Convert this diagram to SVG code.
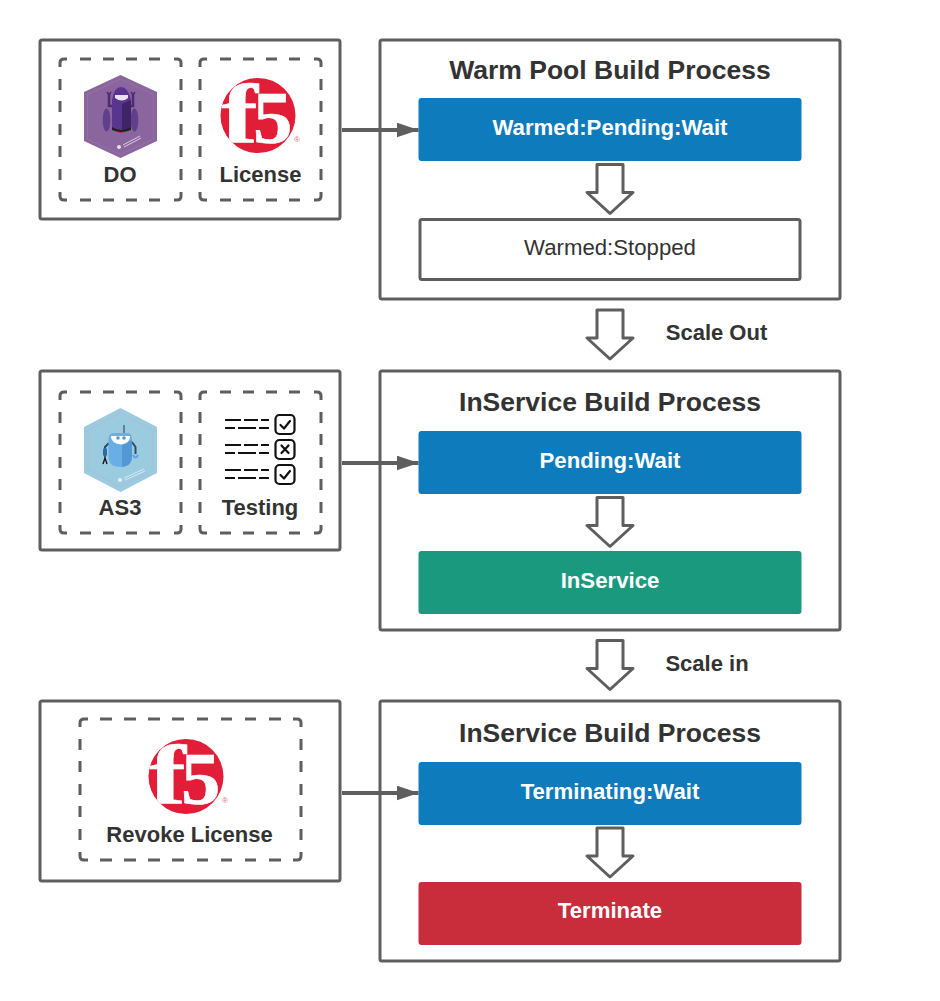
<svg xmlns="http://www.w3.org/2000/svg" width="940" height="1001" viewBox="0 0 940 1001">
<style>
text{font-family:"Liberation Sans",Arial,sans-serif;text-anchor:middle}
.box{fill:#fff;stroke:#5e5e5e;stroke-width:3}
.dash{fill:none;stroke:#5e5e5e;stroke-width:3}
.title{font-size:26.5px;font-weight:700;fill:#333}
.cap{font-size:22px;font-weight:700;fill:#333}
.lab{font-size:22.2px;font-weight:700;fill:#fff}
.side{font-size:22px;font-weight:700;fill:#333}
.flow{fill:#fff;stroke:#5e5e5e;stroke-width:3;stroke-linejoin:round}
.conn{stroke:#5e5e5e;stroke-width:4;fill:none;marker-end:url(#ah)}
.chk{fill:none;stroke:#111;stroke-width:2.2;stroke-linecap:round;stroke-linejoin:round}
.ln{stroke:#111;stroke-width:2.2;fill:none}
.logo{font-family:"Liberation Serif",serif;font-weight:700;fill:#fff;stroke:#fff;text-anchor:start}
</style>
<defs>
<marker id="ah" markerUnits="userSpaceOnUse" markerWidth="22" markerHeight="15" refX="22" refY="7.500" orient="auto"><path d="M0 0L22 7.500L0 15Z" fill="#5e5e5e"/></marker>
<path id="blk" class="flow" d="M-13 0H13V28H23L0 49L-23 28H-13Z"/>
<path id="d121" class="dash" d="M7 0H4Q0 0 0 4V8M114 0H117Q121 0 121 4V8M0 133V137Q0 141 4 141H7M121 133V137Q121 141 117 141H114M20 0H31M43 0H54M66 0H77M89 0H100M20 141H31M43 141H54M66 141H77M89 141H100M0 20V31M0 42V53M0 65V76M0 87V98M0 110V121M121 20V31M121 42V53M121 65V76M121 87V98M121 110V121"/>
<path id="d221" class="dash" d="M8 0H4Q0 0 0 4V8M213 0H217Q221 0 221 4V8M0 133V137Q0 141 4 141H8M221 133V137Q221 141 217 141H213M20 0H32M44 0H56M68 0H80M92 0H104M117 0H128M141 0H152M165 0H176M189 0H201M20 141H32M44 141H56M68 141H80M92 141H104M117 141H128M141 141H152M165 141H176M189 141H201M0 20V31M0 42V53M0 65V76M0 87V98M0 110V121M221 20V31M221 42V53M221 65V76M221 87V98M221 110V121"/>
<clipPath id="f5c"><circle r="37.500"/></clipPath>
<g id="f5">
<circle r="37.500" fill="#e21d38"/>
<g clip-path="url(#f5c)">
<text class="logo" transform="translate(-37 27) scale(1.3 1)" font-size="85" stroke-width="0.6">f</text>
<text class="logo" transform="translate(-5 27) scale(1.05 1)" font-size="75" stroke-width="0.6">5</text>
</g>
<text x="39" y="26.500" font-size="8" fill="#d4707f">®</text>
</g>
<g id="rows"><path class="ln" d="M225 0H241M244 0H258M261 0H269M225 8H235M238 8H256M259 8H269"/></g>
</defs>

<g id="do-license-panel">
<rect class="box" x="40" y="40" width="300" height="179" rx="2"/>
</g>
<g id="do">
<use href="#d121" x="60" y="59"/>
<path d="M120.500 75L157 92V141L120.500 158L84 141V92Z" fill="#8b659d"/>
<path d="M120.500 79L153.500 94.500V139L120.500 154.500L87.500 139V94.500Z" fill="none" stroke="#9a78aa" stroke-width=".6"/>
<path d="M113 106H109V94M129 106H133V94" stroke="#4b2d75" stroke-width="2.500" fill="none"/>
<path d="M107 92L109 95L111 92M131 92L133 95L135 92" stroke="#4b2d75" stroke-width="1.500" fill="none"/>
<ellipse cx="106.500" cy="120" rx="3.800" ry="11.500" fill="#5f3f8e"/>
<ellipse cx="134.500" cy="120" rx="3.800" ry="11.500" fill="#5f3f8e"/>
<path d="M112 128V100Q114 87 121 87Q128 87 131 100V128Q121 133 112 128Z" fill="#5a3590"/>
<path d="M122 104L131 100V128L122 131Z" fill="#3f2468"/>
<path d="M115 95H128V98Q122 103 115 98Z" fill="#e8e4ee"/>
<path d="M115 130Q121 136 127 130Z" fill="#c5282f"/>
<path d="M112 127Q121 133 131 127V130Q121 134 112 130Z" fill="#222"/>
<circle cx="119" cy="147" r="2" fill="#e9e2ee"/>
<path d="M123 145L140 136M124 147L141 138" stroke="#d9cce1" stroke-width="1"/>
<text class="cap" x="120" y="182">DO</text>
</g>
<g id="license">
<use href="#d121" x="200" y="59"/>
<use href="#f5" x="258" y="115.500"/>
<text class="cap" x="260.500" y="182">License</text>
</g>

<g id="warm-pool">
<rect class="box" x="380" y="40" width="460" height="259" rx="2"/>
<text class="title" x="610" y="79">Warm Pool Build Process</text>
</g>
<g id="warmed-pending-wait">
<rect x="418.500" y="98" width="383" height="63" rx="3" fill="#0d7bbc"/>
<text class="lab" x="610" y="135">Warmed:Pending:Wait</text>
</g>
<g id="warm-flow"><use href="#blk" x="610" y="164.500"/></g>
<g id="warmed-stopped">
<rect class="box" x="420" y="219.500" width="380" height="60" rx="2"/>
<text x="610" y="255" font-size="22.200" fill="#333">Warmed:Stopped</text>
</g>
<g id="scale-out">
<use href="#blk" x="610" y="310"/>
<text class="side" x="716.500" y="340">Scale Out</text>
</g>

<g id="as3-testing-panel">
<rect class="box" x="40" y="371" width="300" height="179" rx="2"/>
</g>
<g id="as3">
<use href="#d121" x="60" y="392"/>
<path d="M120.500 408L157 427V473L120.500 492L84 473V427Z" fill="#9bcbdf"/>
<path d="M120.500 413L153 430V470L120.500 487L88 470V430Z" fill="none" stroke="#b4b4d6" stroke-width=".7"/>
<path d="M124 425V434" stroke="#4a6d86" stroke-width="1.500"/>
<path d="M109 443L105 447V456M132 442L135.500 447V454" stroke="#2d4d66" stroke-width="2" fill="none"/>
<rect x="103" y="448" width="4" height="8" rx="1.500" fill="#2a6ba8"/>
<path d="M103 464L105 458L107 464M105 456V459" stroke="#111" stroke-width="1.300" fill="none"/>
<path d="M133 455Q135.500 460 138 455" stroke="#5aa4e0" stroke-width="2" fill="none"/>
<path d="M108.500 439Q108.500 433 114 433H127Q132 433 132 439V456Q132 467 120 467Q108.500 467 108.500 456Z" fill="#69afe6"/>
<path d="M122 445L132 440V456Q132 466 122 467Z" fill="#5497d5"/>
<path d="M111 436H130Q130.500 443 121 444.500Q110.500 443 111 436Z" fill="#fff"/>
<circle cx="118" cy="438" r="1.800" fill="#5497d5"/><circle cx="124" cy="438" r="1.800" fill="#5497d5"/>
<circle cx="120" cy="480" r="2" fill="#e3f1f7"/>
<path d="M124 478L144 469M125 480L145 471" stroke="#d5e9f2" stroke-width="1"/>
<text class="cap" x="120" y="515">AS3</text>
</g>
<g id="testing">
<use href="#d121" x="200" y="392"/>
<use href="#rows" y="420"/><use href="#rows" y="445"/><use href="#rows" y="470"/>
<rect class="chk" x="275.500" y="415" width="19" height="19" rx="4"/>
<rect class="chk" x="275.500" y="440" width="19" height="19" rx="4"/>
<rect class="chk" x="275.500" y="465" width="19" height="19" rx="4"/>
<path class="chk" d="M280.500 425L284 428.500L290 421"/>
<path class="chk" d="M281.500 445.500L288.500 453M288.500 445.500L281.500 453"/>
<path class="chk" d="M280.500 475L284 478.500L290 471"/>
<text class="cap" x="260" y="515">Testing</text>
</g>

<g id="inservice-build">
<rect class="box" x="380" y="371" width="460" height="259" rx="2"/>
<text class="title" x="610" y="411">InService Build Process</text>
</g>
<g id="pending-wait">
<rect x="418.500" y="431" width="383" height="63" rx="3" fill="#0d7bbc"/>
<text class="lab" x="610" y="468">Pending:Wait</text>
</g>
<g id="inservice-flow"><use href="#blk" x="610" y="497.500"/></g>
<g id="inservice">
<rect x="418.500" y="551" width="383" height="63" rx="3" fill="#1b997e"/>
<text class="lab" x="610" y="588">InService</text>
</g>
<g id="scale-in">
<use href="#blk" x="610" y="640.500"/>
<text class="side" x="707" y="671">Scale in</text>
</g>

<g id="revoke-panel">
<rect class="box" x="40" y="701" width="300" height="180" rx="2"/>
</g>
<g id="revoke-license">
<use href="#d221" x="80" y="719"/>
<use href="#f5" x="186" y="776.500"/>
<text class="cap" x="189.500" y="842">Revoke License</text>
</g>

<g id="terminate-build">
<rect class="box" x="380" y="701" width="460" height="260" rx="2"/>
<text class="title" x="610" y="742">InService Build Process</text>
</g>
<g id="terminating-wait">
<rect x="418.500" y="762" width="383" height="63" rx="3" fill="#0d7bbc"/>
<text class="lab" x="610" y="799">Terminating:Wait</text>
</g>
<g id="terminate-flow"><use href="#blk" x="610" y="828"/></g>
<g id="terminate">
<rect x="418.500" y="882" width="383" height="63" rx="3" fill="#c92c3a"/>
<text class="lab" x="610" y="918">Terminate</text>
</g>

<g id="connectors">
<path class="conn" d="M342 130H418.500"/>
<path class="conn" d="M342 463H418.500"/>
<path class="conn" d="M342 793H418.500"/>
</g>
</svg>
